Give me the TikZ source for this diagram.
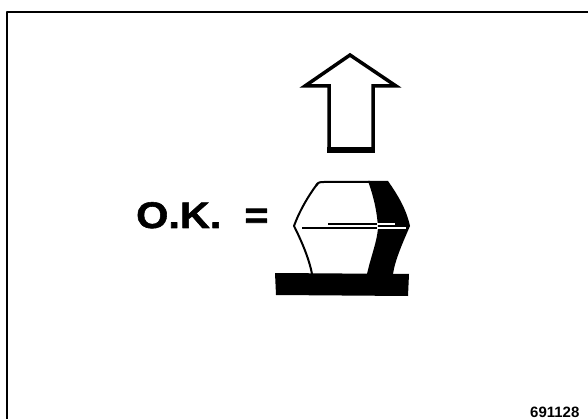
\documentclass[tikz,border=0pt]{standalone}
\usepackage{fontspec}
\setmainfont{Liberation Sans}
\newfontfamily\heavysans[FakeStretch=1.12,FakeBold=1.5]{Liberation Sans Bold}
\begin{document}
\begin{tikzpicture}[
        x=1pt, y=-1pt,
        line join=round,
        font=\bfseries
    ]
    \tikzset{
        frameline/.style = {line width=2.2pt},
        arrowline/.style = {line width=3.5pt, line join=miter},
        bodyline/.style = {line width=2pt},
        tagtext/.style = {inner sep=0pt, anchor=base west},
    }
    \useasboundingbox (0,0) rectangle (588,419);
    \draw[frameline] (7,421) |- (590,12);
    % arrow pointing up
    \draw[arrowline] (350,55) -- (396,86) -- (373,86) -- (373,151) -- (329,151) -- (329,86) -- (305,86) -- cycle;
    \draw[line width=6pt] (327,150) -- (375,150);
    % base plate
    \fill (275,273) -- (409,274) -- (408,296) -- (276,295) -- cycle;
    % left outline of the bead
    \draw[bodyline] (318,183) .. controls (308,196) and (299,212) .. (294,226)
        .. controls (301,240) and (309,258) .. (312,274);
    \draw[bodyline] (316,186) .. controls (318,182) and (320,182) .. (324,182) -- (370,182);
    % shaded right side
    \fill (368,181) -- (388,181) .. controls (397,194) and (406,208) .. (410,226)
        .. controls (403,242) and (395,260) .. (393,274) -- (367,274)
        .. controls (371,256) and (377,242) .. (378,228)
        .. controls (377,210) and (373,195) .. (368,181) -- cycle;
    % parting line
    \draw[line width=1.2pt] (302,228) -- (377,228);
    \draw[line width=2pt] (328,224) -- (377,224);
    \draw[white, line width=1.2pt] (377,228) -- (406,228);
    \draw[white, line width=1.6pt] (377,224) -- (395,224);
    \node[tagtext, font=\heavysans\fontsize{37}{37}\selectfont] (ok) at (136,228) {O.K.\hspace{0.62em}=};
    \node[tagtext, font=\fontsize{15}{15}\bfseries] (code) at (530,417) {691128};
\end{tikzpicture}
\end{document}
